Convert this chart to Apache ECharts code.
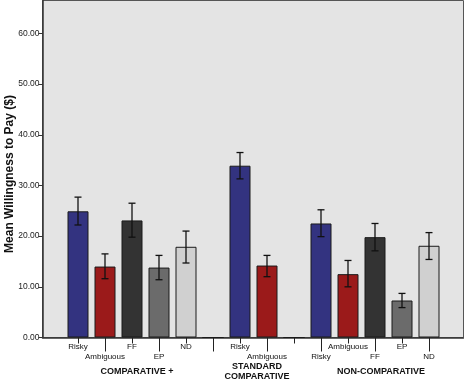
<!DOCTYPE html>
<html><head><meta charset="utf-8">
<script src="https://cdn.jsdelivr.net/npm/echarts@6/dist/echarts.min.js"></script>
<style>html,body{margin:0;padding:0;background:#fff}#c{width:464px;height:381px}</style>
</head><body><div id="c"></div>
<script>
// Categories (empty strings are spacer slots between groups)
const categories = ['Risky','Ambiguous','FF','EP','ND','','Risky','Ambiguous','','Risky','Ambiguous','FF','EP','ND'];
const labelRow = [1,2,1,2,1,2,1,2,1,2,1,2,1,2];
const means   = [24.9,14.0,23.1,13.8,17.9,0,33.9,14.2,0,22.5,12.5,19.8,7.3,18.1];
const errLow  = [22.2,11.6,19.8,11.4,14.7,null,31.3,12.0,null,19.9,10.0,17.1,5.9,15.4];
const errHigh = [27.7,16.5,26.5,16.2,21.0,null,36.5,16.2,null,25.2,15.2,22.5,8.7,20.7];
const barColors = ['#333380','#9b1a1a','#333333','#6b6b6b','#d0d0d0','#333','#333380','#9b1a1a','#333','#333380','#9b1a1a','#333333','#6b6b6b','#d0d0d0'];
const groupNames = ['COMPARATIVE +','STANDARD\nCOMPARATIVE','NON-COMPARATIVE'];
const yTicks = [0,10,20,30,40,50,60];
const yMax = 66.5;

const chart = echarts.init(document.getElementById('c'));
const font = '"Liberation Sans", Arial, sans-serif';
const errData = categories.map((c,i)=> errLow[i]==null ? null : [i, errLow[i], errHigh[i]]).filter(d=>d);

chart.setOption({
  animation:false,
  textStyle:{fontFamily:font},
  grid:[
    {left:64.5, right:21.5, top:0.5, bottom:43.5, outerBoundsMode:'none', containLabel:false},
    {left:42.5, right:0.5, top:0.5, bottom:43.5, outerBoundsMode:'none', containLabel:false, show:true, backgroundColor:'#e4e4e4', borderColor:'#555', borderWidth:1}
  ],
  xAxis:[
    {type:'category', gridIndex:0, position:'bottom', data:categories,
     axisLine:{show:false},
     axisTick:{show:true, alignWithLabel:true, length:6, lineStyle:{color:'#222'}, interval:(i)=>labelRow[i]===1},
     axisLabel:{interval:0, margin:5, fontSize:8, color:'#111', lineHeight:9.5,
       formatter:(v,i)=> labelRow[i]===2 ? '\n'+v : v}},
    {type:'category', gridIndex:0, position:'bottom', data:categories,
     axisLine:{show:false},
     axisTick:{show:true, alignWithLabel:true, length:14, lineStyle:{color:'#222'}, interval:(i)=>labelRow[i]===2},
     axisLabel:{show:false}},
    {type:'value', gridIndex:1, min:0, max:1, show:true,
     axisLine:{show:true, onZero:false, lineStyle:{color:'#333', width:1.5}},
     axisTick:{show:false}, axisLabel:{show:false}, splitLine:{show:false}}
  ],
  yAxis:[
    {type:'value', gridIndex:0, min:0, max:yMax, show:false, splitLine:{show:false}},
    {type:'value', gridIndex:1, min:0, max:yMax,
     name:'Mean Willingness to Pay ($)', nameLocation:'middle', nameGap:27, nameMoveOverlap:false,
     nameTextStyle:{fontSize:12, fontWeight:'bold', color:'#111', fontFamily:font, padding:[0,0,0,-10]},
     axisLine:{show:true, lineStyle:{color:'#333', width:1.5}},
     axisTick:{show:true, length:4, lineStyle:{color:'#333'}, customValues:yTicks},
     axisLabel:{fontSize:8.5, color:'#222', margin:3, customValues:yTicks, formatter:(v)=>v.toFixed(2)},
     splitLine:{show:false}}
  ],
  series:[
    {type:'bar', xAxisIndex:0, yAxisIndex:0, barWidth:21, z:3,
     data: means.map((v,i)=>({value:v, itemStyle:{color:barColors[i], borderColor:'#1a1a1a', borderWidth:1}}))},
    {type:'custom', xAxisIndex:0, yAxisIndex:0, z:5,
     data: errData,
     renderItem:(params, api)=>{
       const x = api.value(0);
       const lo = api.coord([x, api.value(1)]);
       const hi = api.coord([x, api.value(2)]);
       const hw = 3.5;
       const st = {stroke:'#111', lineWidth:1.3};
       return {type:'group', children:[
         {type:'line', shape:{x1:lo[0], y1:lo[1], x2:hi[0], y2:hi[1]}, style:st},
         {type:'line', shape:{x1:hi[0]-hw, y1:hi[1], x2:hi[0]+hw, y2:hi[1]}, style:st},
         {type:'line', shape:{x1:lo[0]-hw, y1:lo[1], x2:lo[0]+hw, y2:lo[1]}, style:st}
       ]};
     }}
  ],
  graphic:[
    {type:'text', x:137, y:367, style:{text:groupNames[0], font:'bold 9px '+font, fill:'#111', align:'center'}},
    {type:'text', x:257, y:362, style:{text:groupNames[1], font:'bold 9px '+font, fill:'#111', align:'center', lineHeight:10}},
    {type:'text', x:381, y:367, style:{text:groupNames[2], font:'bold 9px '+font, fill:'#111', align:'center'}}
  ]
});
</script></body></html>
